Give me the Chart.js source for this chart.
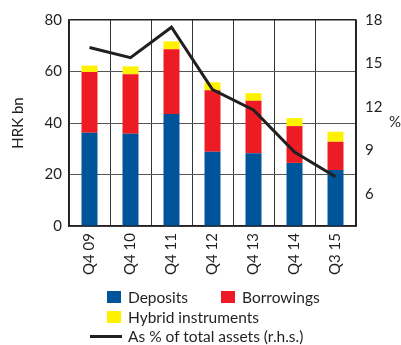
<!DOCTYPE html>
<html>
<head>
<meta charset="utf-8">
<script src="https://cdn.jsdelivr.net/npm/chart.js@4"></script>
<style>
  html, body { margin: 0; padding: 0; background: #fff; }
  #wrap { position: relative; width: 401px; height: 345px; overflow: hidden; font-family: Lato, "Open Sans", sans-serif; color: #231f20; }
  #c { position: absolute; left: 0; top: 0; }
  #pct { position: absolute; left: 389px; top: 112px; font-size: 15px; }
  #legend { position: absolute; left: 0; top: 0; width: 401px; height: 345px; pointer-events: none; font-size: 15.5px; }
  .item { position: absolute; display: flex; align-items: center; white-space: nowrap; }
  .sw { width: 14px; height: 12px; margin-right: 7px; }
  .ln { width: 32px; height: 3px; margin-right: 6px; }
</style>
</head>
<body>
<div id="wrap">
  <canvas id="c" width="401" height="345"></canvas>
  <div id="pct">%</div>
  <div id="legend"></div>
</div>
<script>
// Quarters shown on the category axis
const categories = ['Q4 09', 'Q4 10', 'Q4 11', 'Q4 12', 'Q4 13', 'Q4 14', 'Q3 15'];

// Stacked components, HRK bn
const deposits    = [36.2, 35.8, 43.5, 28.8, 28.3, 24.5, 21.7];
const borrowings  = [23.6, 23.1, 25.1, 23.9, 20.3, 14.3, 11.0];
const hybrid      = [2.5, 3.1, 3.1, 3.1, 3.0, 3.1, 3.9];

// Share of total assets, % (right-hand scale)
const shareOfAssets = [16.1, 15.4, 17.5, 13.2, 11.8, 8.9, 7.2];

// Tick labels
const leftTicks  = [0, 20, 40, 60, 80];
const rightTicks = [6, 9, 12, 15, 18];

const seriesNames = ['Deposits', 'Borrowings', 'Hybrid instruments', 'As % of total assets (r.h.s.)'];
const colors = { deposits: '#00559a', borrowings: '#ed1c24', hybrid: '#fff200', line: '#231f20' };

const FONT = { family: 'Lato, "Open Sans", sans-serif', size: 15 };
const TEXT = '#231f20';

const chart = new Chart(document.getElementById('c'), {
  data: {
    labels: categories,
    datasets: [
      { type: 'line', label: seriesNames[3], data: shareOfAssets, yAxisID: 'yR',
        borderColor: colors.line, borderWidth: 3, pointRadius: 0, tension: 0, order: 0 },
      { type: 'bar', label: seriesNames[0], data: deposits, backgroundColor: colors.deposits,
        yAxisID: 'y', stack: 's', order: 1 },
      { type: 'bar', label: seriesNames[1], data: borrowings, backgroundColor: colors.borrowings,
        yAxisID: 'y', stack: 's', order: 1 },
      { type: 'bar', label: seriesNames[2], data: hybrid, backgroundColor: colors.hybrid,
        yAxisID: 'y', stack: 's', order: 1 }
    ]
  },
  options: {
    responsive: false,
    animation: false,
    devicePixelRatio: 1,
    layout: { padding: { top: 20, right: 0, bottom: 0, left: 0 } },
    datasets: { bar: { barPercentage: 0.39, categoryPercentage: 1.0 } },
    plugins: { legend: { display: false }, tooltip: { enabled: false } },
    scales: {
      x: {
        stacked: true,
        grid: { color: '#333', lineWidth: 1, drawTicks: false, offset: true },
        border: { color: '#231f20', width: 1.5 },
        ticks: { color: TEXT, font: FONT, minRotation: 90, maxRotation: 90, padding: 7, autoSkip: false },
        afterFit(s) { s.height = 119; }
      },
      y: {
        position: 'left', stacked: true, min: 0, max: 80,
        afterBuildTicks(s) { s.ticks = leftTicks.map(v => ({ value: v })); },
        grid: {
          color: ctx => (ctx.tick && ctx.tick.value === 80 ? '#231f20' : '#555'),
          lineWidth: ctx => (ctx.tick && ctx.tick.value === 80 ? 1.5 : 1),
          drawTicks: false
        },
        border: { color: '#231f20', width: 1.5 },
        ticks: { color: TEXT, font: FONT, padding: 7 },
        title: { display: true, text: 'HRK bn', color: TEXT, font: FONT, padding: { top: 9, bottom: 0 } },
        afterFit(s) { s.width = 69; }
      },
      yR: {
        position: 'right', min: 3.8, max: 18,
        afterBuildTicks(s) { s.ticks = rightTicks.map(v => ({ value: v })); },
        grid: { display: false, drawTicks: false },
        border: { color: '#231f20', width: 1.5 },
        ticks: { color: TEXT, font: FONT, padding: 9 },
        afterFit(s) { s.width = 45; }
      }
    }
  }
});

// Legend built from the chart's own datasets
const legend = document.getElementById('legend');
const byLabel = l => chart.data.datasets.find(d => d.label === l);
const legendItems = [
  { label: seriesNames[0], left: 107, top: 288 },
  { label: seriesNames[1], left: 221, top: 288 },
  { label: seriesNames[2], left: 107, top: 308 },
  { label: seriesNames[3], left: 90, top: 327, line: true }
];
legendItems.forEach(it => {
  const ds = byLabel(it.label);
  const el = document.createElement('div');
  el.className = 'item';
  el.style.left = it.left + 'px';
  el.style.top = it.top + 'px';
  const sw = document.createElement('span');
  sw.className = it.line ? 'ln' : 'sw';
  sw.style.background = it.line ? ds.borderColor : ds.backgroundColor;
  const tx = document.createElement('span');
  tx.textContent = it.label;
  el.appendChild(sw);
  el.appendChild(tx);
  legend.appendChild(el);
});
</script>
</body>
</html>
